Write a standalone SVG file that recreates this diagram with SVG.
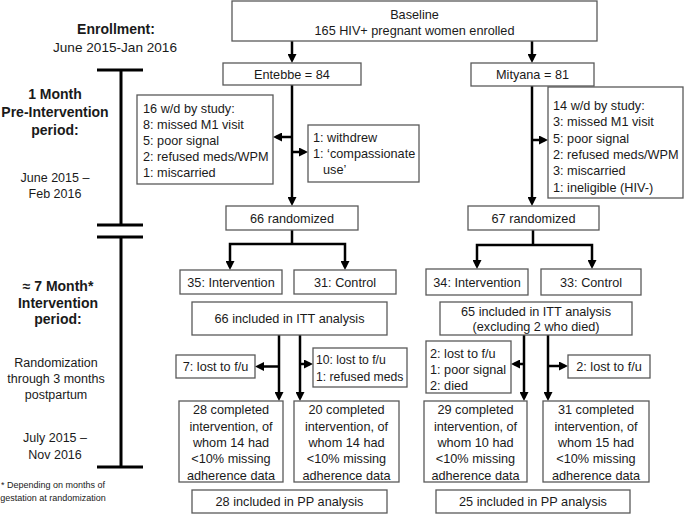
<svg xmlns="http://www.w3.org/2000/svg" width="685" height="515" viewBox="0 0 685 515">
<defs>
<style>
.bg{fill:#fff}
.box{fill:#fff;stroke:#595959;stroke-width:1.3}
.t{font-family:"Liberation Sans",Arial,sans-serif;font-size:12.7px;fill:#1a1a1a}
.c{text-anchor:middle}
.b{font-weight:bold;font-size:14px}
.m{font-size:13.6px}
.s{font-size:12.5px}
.n{font-size:12.2px}
.f{font-size:9px}
.conn{stroke:#000;stroke-width:2.5;fill:none}
.tl{stroke:#000;stroke-width:3;fill:none}
</style>
<marker id="ah" viewBox="0 0 10 10" refX="6.7" refY="5" markerWidth="9" markerHeight="9" markerUnits="userSpaceOnUse" orient="auto-start-reverse">
<path d="M0,0 L10,5 L0,10 z" fill="#000"/>
</marker>
</defs>
<rect class="bg" x="0" y="0" width="685" height="515"/>

<g id="timeline">
<path class="tl" d="M97,70 H143 M121,70 V225 M97,225 H143 M97,237 H143 M121,237 V467 M97,467 H143"/>
<text class="t b c" x="116" y="34">Enrollment:</text>
<text class="t m c" x="115" y="52">June 2015-Jan 2016</text>
<text class="t b c" x="55" y="99">1 Month</text>
<text class="t b c" x="55" y="117">Pre-Intervention</text>
<text class="t b c" x="55" y="135">period:</text>
<text class="t s c" x="55" y="182">June 2015 –</text>
<text class="t s c" x="55" y="197.5">Feb 2016</text>
<text class="t b c" x="58" y="291">≈ 7 Month*</text>
<text class="t b c" x="58" y="307.5">Intervention</text>
<text class="t b c" x="58" y="324">period:</text>
<text class="t s c" x="56" y="367">Randomization</text>
<text class="t s c" x="56" y="383">through 3 months</text>
<text class="t s c" x="56" y="399">postpartum</text>
<text class="t s c" x="55" y="442">July 2015 –</text>
<text class="t s c" x="55" y="458.5">Nov 2016</text>
<text class="t f c" x="53" y="488">* Depending on months of</text>
<text class="t f c" x="53" y="501">gestation at randomization</text>
</g>

<g id="connectors">
<path class="conn" marker-end="url(#ah)" d="M292,41 V60"/>
<path class="conn" marker-end="url(#ah)" d="M532,41 V60"/>
<path class="conn" marker-end="url(#ah)" d="M292,85 V203"/>
<path class="conn" marker-end="url(#ah)" d="M292,137 H276"/>
<path class="conn" marker-end="url(#ah)" d="M292,152 H305"/>
<path class="conn" marker-end="url(#ah)" d="M532,86 V203"/>
<path class="conn" marker-end="url(#ah)" d="M532,140 H545"/>
<path class="conn" d="M292,230 V244"/>
<path class="conn" marker-start="url(#ah)" marker-end="url(#ah)" d="M230,267 V244 H345 V267"/>
<path class="conn" marker-end="url(#ah)" d="M279,335 V398"/>
<path class="conn" marker-end="url(#ah)" d="M300,335 V398"/>
<path class="conn" marker-end="url(#ah)" d="M279,366.5 H258"/>
<path class="conn" marker-end="url(#ah)" d="M300,364 H310"/>
<path class="conn" d="M533,230 V245"/>
<path class="conn" marker-start="url(#ah)" marker-end="url(#ah)" d="M477,266 V245 H592 V266"/>
<path class="conn" marker-end="url(#ah)" d="M524,335 V398"/>
<path class="conn" marker-end="url(#ah)" d="M548,335 V398"/>
<path class="conn" marker-end="url(#ah)" d="M524,364 H514"/>
<path class="conn" marker-end="url(#ah)" d="M548,366 H565"/>
</g>

<g id="baseline">
<rect class="box" x="232" y="1" width="365" height="40"/>
<text class="t c" x="414.5" y="18.5">Baseline</text>
<text class="t c" x="414.5" y="35">165 HIV+ pregnant women enrolled</text>
</g>

<g id="entebbe">
<rect class="box" x="223" y="63" width="138" height="22"/>
<text class="t c" x="292" y="78.5">Entebbe = 84</text>
</g>

<g id="mityana">
<rect class="box" x="471" y="63" width="123" height="23"/>
<text class="t c" x="532.5" y="79">Mityana = 81</text>
</g>

<g id="entebbe-wd">
<rect class="box" x="137" y="95" width="136" height="89"/>
<text class="t" x="143" y="112.5">16 w/d by study:</text>
<text class="t" x="143" y="128.5">8: missed M1 visit</text>
<text class="t" x="143" y="144.5">5: poor signal</text>
<text class="t" x="143" y="160.5">2: refused meds/WPM</text>
<text class="t" x="143" y="176.5">1: miscarried</text>
</g>

<g id="entebbe-withdrew">
<rect class="box" x="308" y="125" width="111" height="57"/>
<text class="t" x="313" y="141.5">1: withdrew</text>
<text class="t" x="313" y="157.5">1: ‘compassionate</text>
<text class="t" x="323" y="174">use’</text>
</g>

<g id="mityana-wd">
<rect class="box" x="548" y="87" width="135" height="111"/>
<text class="t" x="553" y="109.5">14 w/d by study:</text>
<text class="t" x="553" y="126">3: missed M1 visit</text>
<text class="t" x="553" y="142.5">5: poor signal</text>
<text class="t" x="553" y="158.5">2: refused meds/WPM</text>
<text class="t" x="553" y="175">3: miscarried</text>
<text class="t" x="553" y="191.5">1: ineligible (HIV-)</text>
</g>

<g id="entebbe-rand">
<rect class="box" x="226" y="206" width="132" height="24"/>
<text class="t c" x="292" y="222.5">66 randomized</text>
</g>

<g id="mityana-rand">
<rect class="box" x="468" y="206" width="131" height="24"/>
<text class="t c" x="533.5" y="222.5">67 randomized</text>
</g>

<g id="e-int">
<rect class="box" x="180" y="270" width="102" height="24"/>
<text class="t c" x="231" y="286.5">35: Intervention</text>
</g>
<g id="e-ctl">
<rect class="box" x="294" y="270" width="102" height="24"/>
<text class="t c" x="345" y="286.5">31: Control</text>
</g>
<g id="m-int">
<rect class="box" x="426" y="269" width="102" height="26"/>
<text class="t c" x="477" y="286.5">34: Intervention</text>
</g>
<g id="m-ctl">
<rect class="box" x="541" y="269" width="100" height="26"/>
<text class="t c" x="591" y="286.5">33: Control</text>
</g>

<g id="e-itt">
<rect class="box" x="192" y="302" width="195" height="33"/>
<text class="t c" x="289.5" y="323">66 included in ITT analysis</text>
</g>
<g id="m-itt">
<rect class="box" x="440" y="302" width="192" height="33"/>
<text class="t c" x="536" y="315.5">65 included in ITT analysis</text>
<text class="t c" x="536" y="330.5">(excluding 2 who died)</text>
</g>

<g id="e-int-lost">
<rect class="box" x="176" y="355" width="79" height="23"/>
<text class="t c" x="215.5" y="371">7: lost to f/u</text>
</g>
<g id="e-ctl-lost">
<rect class="box" x="313" y="348" width="94" height="39"/>
<text class="t n" x="316" y="363.5">10: lost to f/u</text>
<text class="t n" x="316" y="380.5">1: refused meds</text>
</g>
<g id="m-int-lost">
<rect class="box" x="426" y="341" width="85" height="52"/>
<text class="t" x="430" y="357.5">2: lost to f/u</text>
<text class="t" x="430" y="373.5">1: poor signal</text>
<text class="t" x="430" y="389.5">2: died</text>
</g>
<g id="m-ctl-lost">
<rect class="box" x="568" y="355" width="82" height="23"/>
<text class="t c" x="609" y="371">2: lost to f/u</text>
</g>

<g id="e-int-done">
<rect class="box" x="179" y="401" width="104" height="81"/>
<text class="t c" x="231" y="413.5">28 completed</text>
<text class="t c" x="231" y="430.5">intervention, of</text>
<text class="t c" x="231" y="446.5">whom 14 had</text>
<text class="t c" x="231" y="463">&lt;10% missing</text>
<text class="t c" x="231" y="479.5">adherence data</text>
</g>
<g id="e-ctl-done">
<rect class="box" x="294" y="401" width="105" height="81"/>
<text class="t c" x="346.5" y="413.5">20 completed</text>
<text class="t c" x="346.5" y="430.5">intervention, of</text>
<text class="t c" x="346.5" y="446.5">whom 14 had</text>
<text class="t c" x="346.5" y="463">&lt;10% missing</text>
<text class="t c" x="346.5" y="479.5">adherence data</text>
</g>
<g id="m-int-done">
<rect class="box" x="424" y="401" width="103" height="81"/>
<text class="t c" x="475.5" y="413.5">29 completed</text>
<text class="t c" x="475.5" y="430.5">intervention, of</text>
<text class="t c" x="475.5" y="446.5">whom 10 had</text>
<text class="t c" x="475.5" y="463">&lt;10% missing</text>
<text class="t c" x="475.5" y="479.5">adherence data</text>
</g>
<g id="m-ctl-done">
<rect class="box" x="543" y="401" width="106" height="81"/>
<text class="t c" x="596" y="413.5">31 completed</text>
<text class="t c" x="596" y="430.5">intervention, of</text>
<text class="t c" x="596" y="446.5">whom 15 had</text>
<text class="t c" x="596" y="463">&lt;10% missing</text>
<text class="t c" x="596" y="479.5">adherence data</text>
</g>

<g id="e-pp">
<rect class="box" x="192" y="490" width="195" height="23"/>
<text class="t c" x="289.5" y="506">28 included in PP analysis</text>
</g>
<g id="m-pp">
<rect class="box" x="436" y="490" width="194" height="23"/>
<text class="t c" x="533" y="506">25 included in PP analysis</text>
</g>
</svg>
